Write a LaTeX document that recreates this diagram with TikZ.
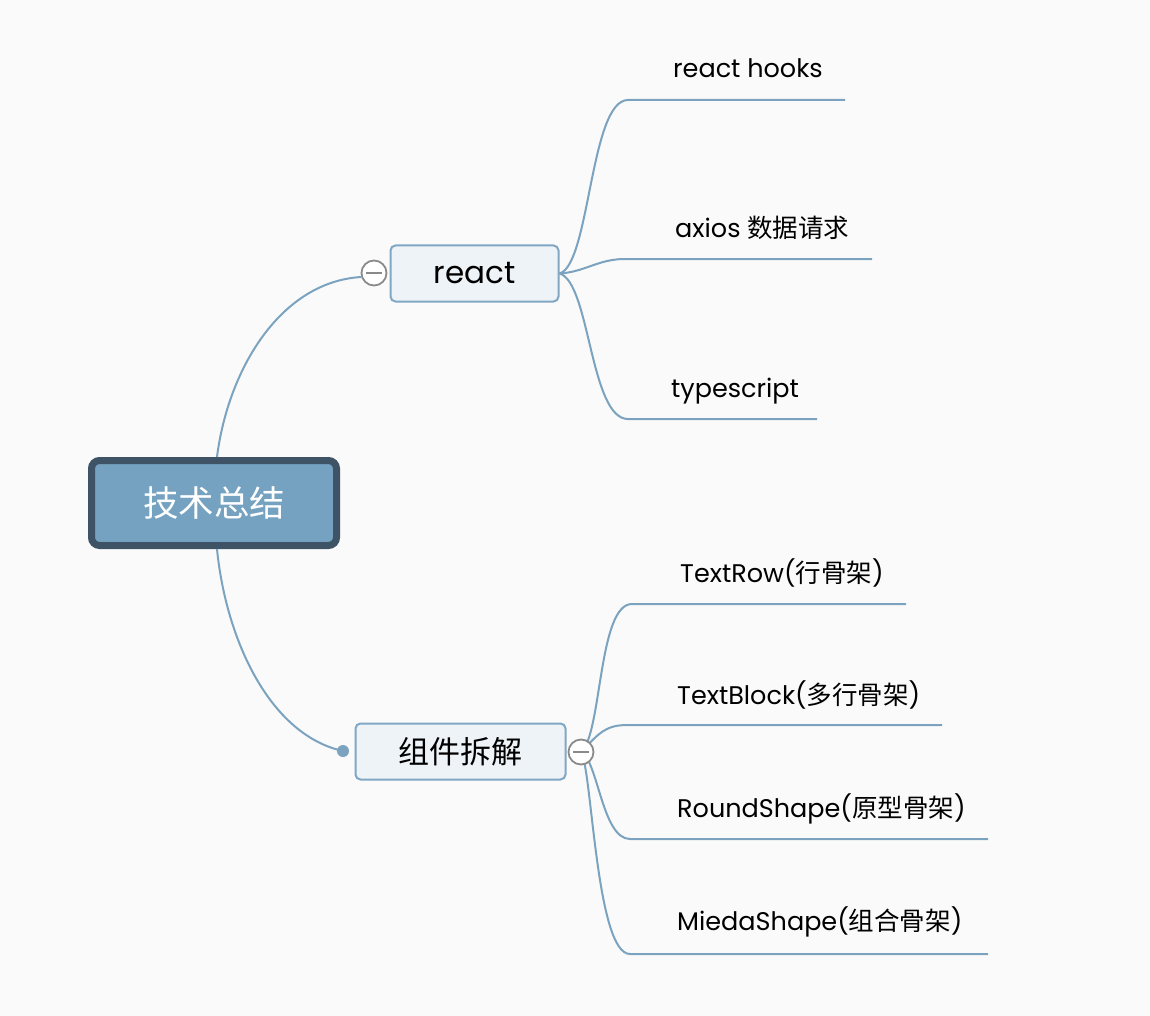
\documentclass[tikz,border=0pt]{standalone}
\usepackage{fontspec}
\setmainfont{Poppins}
\newfontfamily\cjk{Noto Sans CJK SC}
\definecolor{bgc}{HTML}{FAFAFA}
\definecolor{linec}{HTML}{7BA3C0}
\definecolor{rootfill}{HTML}{74A2C0}
\definecolor{rootdraw}{HTML}{3E5366}
\definecolor{subfill}{HTML}{EEF3F7}
\definecolor{subdraw}{HTML}{80A7C4}
\definecolor{circc}{HTML}{8A8A8A}
\begin{document}
\begin{tikzpicture}[x=1pt,y=-1pt,
  conn/.style={draw=linec,line width=2pt},
  rootbox/.style={draw=rootdraw,fill=rootfill,line width=7pt,rounded corners=8pt,minimum width=245pt,minimum height=85pt,text=white,font=\cjk\fontsize{35.5}{38}\selectfont},
  subbox/.style={draw=subdraw,fill=subfill,line width=2pt,rounded corners=5pt,minimum height=56pt},
  leaf/.style={anchor=base west,inner sep=0pt,font=\fontsize{25.5}{28}\selectfont},
  toggle/.style={circle,draw=circc,fill=white,line width=1.8pt,minimum size=25pt,inner sep=0pt,
     path picture={\draw[circc,line width=1.8pt] ([xshift=-8pt]path picture bounding box.center) -- ([xshift=8pt]path picture bounding box.center);}},
  dotc/.style={circle,fill=linec,minimum size=12pt,inner sep=0pt}]
\fill[bgc] (0,0) rectangle (1150,1016);
\useasboundingbox (0,0) rectangle (1150,1016);

% main nodes
\node[rootbox] (root) at (214,503) {技术总结};
\node[subbox,minimum width=168pt,font=\fontsize{31}{34}\selectfont] (react) at (474.5,273.5) {react};
\node[subbox,minimum width=210pt,font=\cjk\fontsize{31}{34}\selectfont] (comp) at (460.5,751.5) {组件拆解};

% leaf line coordinates
\coordinate (a1) at (628,100);  \coordinate (b1) at (845,100);
\coordinate (a2) at (625,259);  \coordinate (b2) at (872,259);
\coordinate (a3) at (628,419);  \coordinate (b3) at (817,419);
\coordinate (a4) at (632,604);  \coordinate (b4) at (906,604);
\coordinate (a5) at (628,725);  \coordinate (b5) at (942,725);
\coordinate (a6) at (630,839);  \coordinate (b6) at (988,839);
\coordinate (a7) at (630,954);  \coordinate (b7) at (988,954);
\coordinate (cc) at (581,752);

% connectors root
\draw[conn] (root.north) ++(3,0) coordinate (rn) (rn) .. controls (228,370) and (280,282) .. (361,277);
\draw[conn] (root.south) ++(3,0) coordinate (rs) (rs) .. controls (226,640) and (270,735) .. (343,751);

% react children
\draw[conn] (react.east) .. controls (590,265) and (590,100) .. (a1) -- (b1);
\draw[conn] (react.east) .. controls (585,272) and (598,259) .. (a2) -- (b2);
\draw[conn] (react.east) .. controls (590,282) and (590,419) .. (a3) -- (b3);

% comp children
\draw[conn] (cc) .. controls (602,735) and (598,604) .. (a4) -- (b4);
\draw[conn] (cc) .. controls (600,732) and (606,725) .. (a5) -- (b5);
\draw[conn] (cc) .. controls (598,760) and (602,839) .. (a6) -- (b6);
\draw[conn] (cc) .. controls (592,768) and (596,954) .. (a7) -- (b7);

% toggles and dot
\node[toggle] (t1) at (374,273) {};
\node[toggle] (t2) at (cc) {};
\node[dotc] (d1) at (343,751) {};

% leaf labels
\node[leaf] (l1) at (673,78) {react hooks};
\node[leaf] (l2) at (675,238) {axios {\cjk 数据请求}};
\node[leaf] (l3) at (671,397) {typescript};
\node[leaf] (l4) at (680,582) {TextRow({\cjk 行骨架})};
\node[leaf] (l5) at (677,704) {TextBlock({\cjk 多行骨架})};
\node[leaf] (l6) at (677,817) {RoundShape({\cjk 原型骨架})};
\node[leaf] (l7) at (677,930) {MiedaShape({\cjk 组合骨架})};
\end{tikzpicture}
\end{document}
